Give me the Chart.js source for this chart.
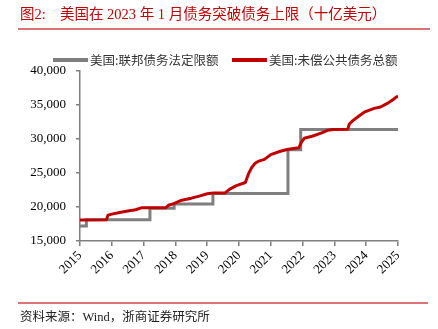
<!DOCTYPE html>
<html>
<head>
<meta charset="utf-8">
<script src="https://cdn.jsdelivr.net/npm/chart.js@4.4.1/dist/chart.umd.min.js"></script>
<style>
  html, body { margin: 0; padding: 0; background: #fff; }
</style>
</head>
<body>
<canvas id="myChart" width="438" height="329"></canvas>
<script>
// debt limit (grey, stepped) - year of change, billion USD
var limitYears = [2015.0, 2015.2, 2017.2, 2017.96, 2019.18, 2021.54, 2021.94, 2025.0];
var limitValues = [17212, 18113, 19809, 20456, 21988, 28401, 31381, 31381];

// total public debt outstanding (red)
var debtYears = [2015.0, 2015.83, 2015.88, 2016.0, 2016.25, 2016.5, 2016.75, 2016.95,
  2017.2, 2017.7, 2017.78, 2017.95, 2018.2, 2018.5, 2018.75, 2019.0, 2019.2, 2019.55,
  2019.7, 2019.9, 2020.2, 2020.3, 2020.4, 2020.5, 2020.6, 2020.8, 2021.0, 2021.3,
  2021.55, 2021.88, 2021.96, 2022.05, 2022.3, 2022.6, 2022.8, 2022.97, 2023.42,
  2023.47, 2023.58, 2023.75, 2023.96, 2024.25, 2024.45, 2024.65, 2024.85, 2024.95, 2025.0];
var debtValues = [18100, 18120, 18800, 18950, 19200, 19400, 19600, 19900,
  19900, 19900, 20250, 20500, 21000, 21300, 21600, 21950, 22050, 22050,
  22600, 23100, 23600, 24900, 25800, 26400, 26700, 27000, 27700, 28200,
  28500, 28700, 29500, 30100, 30400, 30900, 31300, 31400, 31450,
  32200, 32700, 33300, 34000, 34500, 34700, 35200, 35800, 36200, 36200];

var yTicks = [15000, 20000, 25000, 30000, 35000, 40000];

var limitLabel = '美国:联邦债务法定限额';
var debtLabel = '美国:未偿公共债务总额';
var titleText = '美国在 2023 年 1 月债务突破债务上限（十亿美元）';
var sourceText = '资料来源：Wind，浙商证券研究所';

var serif = '"Liberation Serif", "Noto Sans CJK SC", serif';
var sans = '"Noto Sans CJK SC", sans-serif';

// title, rules, source and legend drawn around the chart
var decor = {
  id: 'decor',
  afterDraw: function(chart) {
    var ctx = chart.ctx;
    ctx.save();
    ctx.textBaseline = 'middle';
    ctx.fillStyle = '#c00000';
    ctx.font = '14.5px ' + serif;
    ctx.fillText('图2:', 20, 15);
    ctx.fillText(titleText, 60, 15);

    ctx.strokeStyle = '#d04848';
    ctx.lineWidth = 1.5;
    ctx.beginPath();
    ctx.moveTo(18, 29); ctx.lineTo(430, 29);
    ctx.moveTo(18, 303); ctx.lineTo(428, 303);
    ctx.stroke();

    ctx.fillStyle = '#222';
    ctx.font = '12.5px ' + serif;
    ctx.fillText(sourceText, 20, 318);

    var legendX = [53, 232];
    ctx.font = '12.5px ' + sans;
    ctx.lineCap = 'butt';
    chart.data.datasets.forEach(function(ds, i) {
      ctx.strokeStyle = ds.borderColor;
      ctx.lineWidth = 4;
      ctx.beginPath();
      ctx.moveTo(legendX[i], 60);
      ctx.lineTo(legendX[i] + 35, 60);
      ctx.stroke();
      ctx.fillStyle = '#333';
      ctx.fillText(ds.label, legendX[i] + 37, 60);
    });
    ctx.restore();
  }
};

var ctx = document.getElementById('myChart').getContext('2d');
var myChart = new Chart(ctx, {
  type: 'line',
  data: {
    datasets: [{
      label: limitLabel,
      data: limitYears.map(function(x, i) { return {x: x, y: limitValues[i]}; }),
      borderColor: '#7f7f7f',
      backgroundColor: '#7f7f7f',
      borderWidth: 3,
      stepped: true,
      pointRadius: 0,
      order: 1
    }, {
      label: debtLabel,
      data: debtYears.map(function(x, i) { return {x: x, y: debtValues[i]}; }),
      borderColor: '#c00000',
      backgroundColor: '#c00000',
      borderWidth: 3,
      pointRadius: 0,
      borderJoinStyle: 'round',
      order: 0
    }]
  },
  options: {
    responsive: false,
    animation: false,
    layout: { padding: { left: 0, right: 40, top: 71, bottom: 48 } },
    plugins: {
      legend: { display: false },
      tooltip: { enabled: false }
    },
    scales: {
      x: {
        type: 'linear',
        min: 2015,
        max: 2025,
        afterFit: function(s) { s.height = 40; },
        ticks: {
          stepSize: 1,
          minRotation: 45,
          maxRotation: 45,
          padding: 2,
          color: '#000',
          font: { family: serif, size: 13 },
          callback: function(v) { return String(v); }
        },
        grid: { drawOnChartArea: false, tickLength: 5, color: '#7f7f7f', lineWidth: 1.5 },
        border: { color: '#7f7f7f', width: 1.5 }
      },
      y: {
        min: 15000,
        max: 40000,
        afterFit: function(s) { s.width = 80; },
        afterBuildTicks: function(s) { s.ticks = yTicks.map(function(v) { return {value: v}; }); },
        ticks: {
          padding: 10,
          color: '#000',
          font: { family: serif, size: 13 },
          callback: function(v) { return v.toLocaleString('en-US'); }
        },
        grid: { drawOnChartArea: false, tickLength: 4, color: '#7f7f7f', lineWidth: 1.5 },
        border: { color: '#7f7f7f', width: 1.5 }
      }
    }
  },
  plugins: [decor]
});
</script>
</body>
</html>
